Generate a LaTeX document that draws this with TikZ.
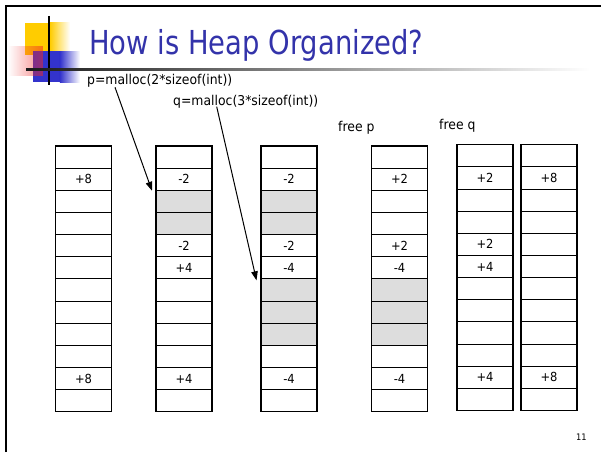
\documentclass[tikz,border=0pt]{standalone}
\usepackage{fontspec}
\setmainfont{DejaVu Sans}[FakeStretch=0.92]
\newfontfamily\titlefont{DejaVu Sans}[FakeStretch=0.83]
\usetikzlibrary{calc,arrows.meta,fadings}

\definecolor{titleblue}{RGB}{51,51,170}
\definecolor{cellgray}{RGB}{221,221,221}
\definecolor{logoyellow}{RGB}{255,204,0}
\definecolor{logoblue}{RGB}{51,51,204}
\definecolor{logored}{RGB}{240,40,40}

\tikzfading[name=redfade, left color=transparent!100, right color=transparent!45]

% one heap column: name, left x, top y, list of style/text pairs (12 words)
\newcommand\heapcolumn[4]{%
  \foreach \f/\t [count=\j] in {#4} {
    \node[\f] (#1r\j) at (#2, {#3+(\j-1)*22.14}) {\t};
  }
  \draw[colframe] (#1r1.north west) rectangle (#1r12.south east);
}

\begin{document}
\begin{tikzpicture}[x=1pt,y=-1pt,
  cell/.style={draw=black, line width=0.8pt, minimum width=56pt, minimum height=22.14pt,
               inner sep=0pt, outer sep=0pt, anchor=north west,
               font=\fontsize{12.5}{13}\selectfont},
  wcell/.style={cell, fill=white},
  gcell/.style={cell, fill=cellgray},
  colframe/.style={draw=black, line width=1.5pt},
  label/.style={anchor=base west, inner sep=0pt, font=\fontsize{13.5}{15}\selectfont},
  arr/.style={-{Triangle[length=9pt,width=6.5pt]}, line width=1pt}]

\useasboundingbox (0,0) rectangle (601,452);
\fill[white] (0,0) rectangle (601,452);

% slide frame
\draw[line width=2pt] (6,452) -- (6,6) -- (601,6);

% logo squares
\fill[logoyellow] (25,23) rectangle (50,55);
\shade[left color=logoyellow, right color=white] (49.9,23) rectangle (70,55);
\fill[logoblue] (33,51) rectangle (60,82);
\shade[left color=logoblue, right color=white] (59.9,51) rectangle (80,82);
\fill[logored, path fading=redfade] (8,46) rectangle (43,76);
\draw[line width=1.5pt] (49,16) -- (49,85);

% title rule
\shade[left color=black!90, middle color=black!55, right color=white] (26,68.2) rectangle (590,70.6);

% title
\node[anchor=base west, inner sep=0pt, text=titleblue, font=\titlefont\fontsize{33}{36}\selectfont]
  (title) at (89,55) {How is Heap Organized?};

% statements
\node[label] (plab) at (87,84) {p=malloc(2*sizeof(int))};
\node[label] (qlab) at (173,105) {q=malloc(3*sizeof(int))};
\node[label] (fp) at (338,131) {free p};
\node[label] (fq) at (439,129) {free q};

% heap columns
\heapcolumn{a}{55.5}{146}{wcell/{},wcell/+8,wcell/{},wcell/{},wcell/{},wcell/{},wcell/{},wcell/{},wcell/{},wcell/{},wcell/+8,wcell/{}}
\heapcolumn{b}{156}{146}{wcell/{},wcell/-2,gcell/{},gcell/{},wcell/-2,wcell/+4,wcell/{},wcell/{},wcell/{},wcell/{},wcell/+4,wcell/{}}
\heapcolumn{c}{261}{146}{wcell/{},wcell/-2,gcell/{},gcell/{},wcell/-2,wcell/-4,gcell/{},gcell/{},gcell/{},wcell/{},wcell/-4,wcell/{}}
\heapcolumn{d}{371.5}{146}{wcell/{},wcell/+2,wcell/{},wcell/{},wcell/+2,wcell/-4,gcell/{},gcell/{},gcell/{},wcell/{},wcell/-4,wcell/{}}
\heapcolumn{e}{457}{144.7}{wcell/{},wcell/+2,wcell/{},wcell/{},wcell/+2,wcell/+4,wcell/{},wcell/{},wcell/{},wcell/{},wcell/+4,wcell/{}}
\heapcolumn{f}{521}{144.7}{wcell/{},wcell/+8,wcell/{},wcell/{},wcell/{},wcell/{},wcell/{},wcell/{},wcell/{},wcell/{},wcell/+8,wcell/{}}

% pointers returned by malloc
\draw[arr] ($(plab.base west)+(28,3.3)$) -- ($(br3.north west)+(-4,0.5)$);
\draw[arr] ($(qlab.base west)+(43.7,1.7)$) -- ($(cr7.north west)+(-4.5,1.5)$);

% page number
\node[anchor=base west, inner sep=0pt, font=\fontsize{9}{10}\selectfont] (pg) at (576,440) {11};

\end{tikzpicture}
\end{document}
